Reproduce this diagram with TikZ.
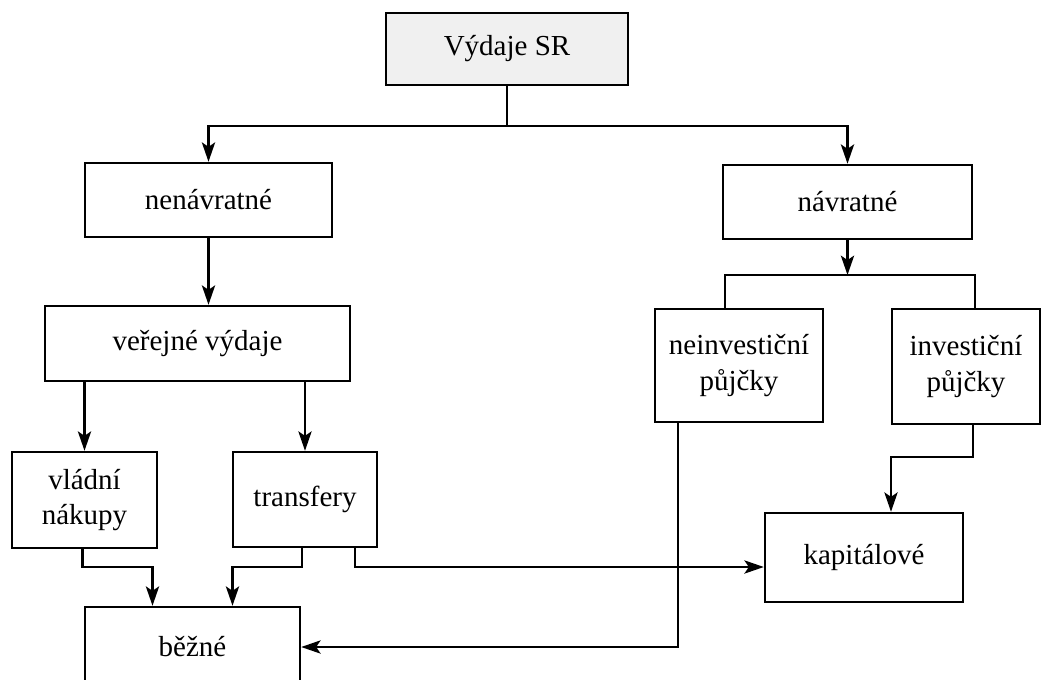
\documentclass[tikz,border=0pt]{standalone}
\usepackage{fontspec}
\setmainfont{Liberation Serif}
\usetikzlibrary{arrows.meta}
\tikzset{
  blok/.style={draw, line width=1.4pt, inner sep=0pt, align=center,
    font=\fontsize{16.5}{20}\selectfont},
  sipka/.style={line width=1.4pt, -{Stealth[length=11pt,width=7.5pt,inset=2.5pt]}},
  cara/.style={line width=1.4pt}
}
\begin{document}
\begin{tikzpicture}[x=0.02cm,y=-0.02cm]
\useasboundingbox (0,0) rectangle (1046,680);
\clip (0,0) rectangle (1046,680);
% boxes
\node[blok, fill=gray!12, minimum width=4.84cm, minimum height=1.44cm] (vydaje) at (507,49) {Výdaje SR};
\node[blok, minimum width=4.94cm, minimum height=1.48cm] (nenavratne) at (208.5,200) {nenávratné};
\node[blok, minimum width=4.98cm, minimum height=1.48cm] (navratne) at (847.5,202) {návratné};
\node[blok, minimum width=6.10cm, minimum height=1.50cm] (verejne) at (197.5,343.5) {veřejné výdaje};
\node[blok, minimum width=3.36cm, minimum height=2.26cm] (neinvest) at (739,365.5) {neinvestiční\\půjčky};
\node[blok, minimum width=2.96cm, minimum height=2.30cm] (invest) at (966,366.5) {investiční\\půjčky};
\node[blok, minimum width=2.90cm, minimum height=1.92cm] (vladni) at (84.5,500) {vládní\\nákupy};
\node[blok, minimum width=2.88cm, minimum height=1.90cm] (transfery) at (305,499.5) {transfery};
\node[blok, minimum width=3.96cm, minimum height=1.78cm] (kapitalove) at (864,557.5) {kapitálové};
\node[blok, minimum width=4.30cm, minimum height=1.60cm] (bezne) at (192.5,647) {běžné};
% rails and entry points
\coordinate (split1) at (507,126);
\coordinate (split2) at (847.5,275);
\coordinate (rail1) at (0,567);
\coordinate (bin1) at ([shift={(-40,0)}]bezne.north);
\coordinate (bin2) at ([shift={(40,0)}]bezne.north);
% connectors
\draw[cara] (vydaje) -- (split1);
\draw[sipka] (split1) -| (nenavratne);
\draw[sipka] (split1) -| (navratne);
\draw[sipka] (nenavratne.south) -- (nenavratne.south |- verejne.north);
\draw[sipka] (vladni.north |- verejne.south) -- (vladni);
\draw[sipka] (transfery.north |- verejne.south) -- (transfery);
\draw[sipka] (navratne) -- (split2);
\draw[cara] ([shift={(-14,0)}]neinvest.north) |- (split2) -| ([shift={(9,0)}]invest.north);
\draw[sipka] ([shift={(-2,0)}]vladni.south) |- (bin1 |- rail1) -- (bin1);
\draw[sipka] ([shift={(-3,0)}]transfery.south) |- (bin2 |- rail1) -- (bin2);
\draw[sipka] ([shift={(50,0)}]transfery.south) |- (kapitalove.west |- rail1);
\draw[sipka] ([shift={(-61,0)}]neinvest.south) |- (bezne.east);
\draw[sipka] ([shift={(7,0)}]invest.south) -- ++(0,32) -| ([shift={(27,0)}]kapitalove.north);
\end{tikzpicture}
\end{document}
